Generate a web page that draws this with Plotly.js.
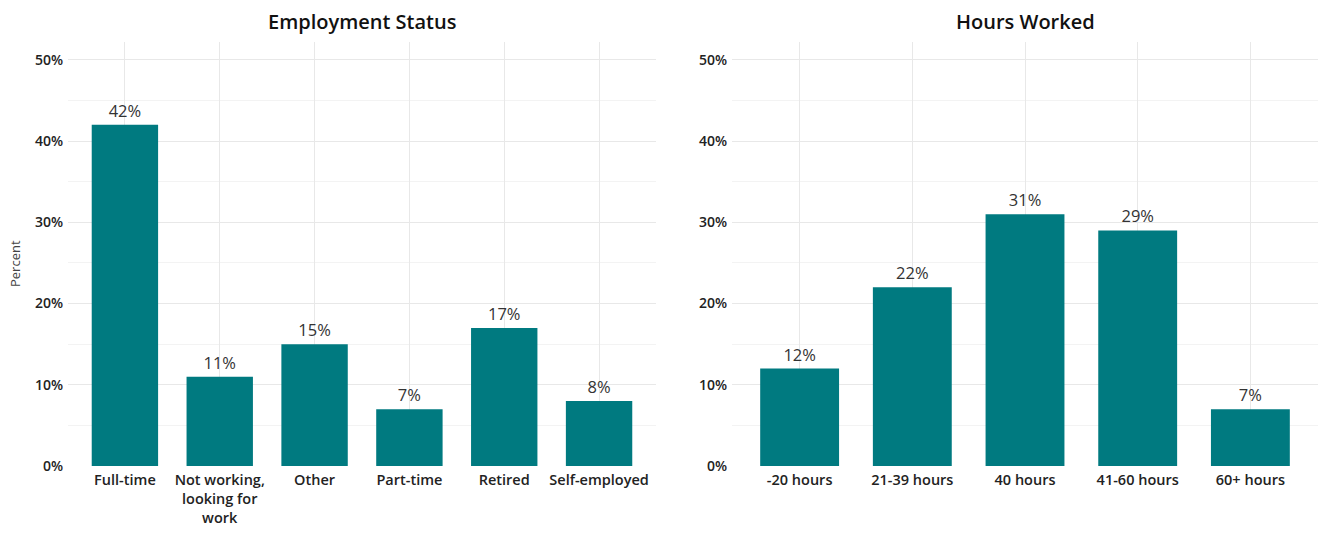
<!DOCTYPE html>
<html>
<head>
<meta charset="utf-8">
<script src="https://cdn.plot.ly/plotly-3.0.1.min.js"></script>
<style>html,body{margin:0;padding:0;background:#fff;}#chart{width:1318px;height:535px;}</style>
</head>
<body>
<div id="chart"></div>
<script>
var empCategories = ["Full-time", "Not working,<br>looking for<br>work", "Other", "Part-time", "Retired", "Self-employed"];
var empValues = [42, 11, 15, 7, 17, 8];
var hoursCategories = ["-20 hours", "21-39 hours", "40 hours", "41-60 hours", "60+ hours"];
var hoursValues = [12, 22, 31, 29, 7];
var yTicks = [0, 10, 20, 30, 40, 50];

var barColor = "#007a80";
var fontFam = "'Open Sans', sans-serif";

function labels(v){ return v.map(function(x){ return x + "%"; }); }

var traces = [
  {type:"bar", x: empCategories, y: empValues, text: labels(empValues), textposition:"outside",
   textfont:{size:16.5, color:"#333", family:fontFam}, cliponaxis:false,
   marker:{color: barColor, line:{width:0}}, width:0.7, xaxis:"x", yaxis:"y", hoverinfo:"none"},
  {type:"bar", x: hoursCategories, y: hoursValues, text: labels(hoursValues), textposition:"outside",
   textfont:{size:16.5, color:"#333", family:fontFam}, cliponaxis:false,
   marker:{color: barColor, line:{width:0}}, width:0.7, xaxis:"x2", yaxis:"y2", hoverinfo:"none"}
];

function yax(anchor){
  return {anchor: anchor, domain:[0.129, 0.9215], range:[0, 52.2], tickvals: yTicks,
    ticktext: yTicks.map(function(t){return t+"%";}), showgrid:true, gridcolor:"#e8e8e8", gridwidth:1,
    minor:{dtick:5, tick0:0, showgrid:true, gridcolor:"#f3f3f3", gridwidth:1},
    zeroline:false, showline:false, ticks:"", ticklen:0, ticklabelstandoff:4,
    tickfont:{size:14, color:"#222", family:fontFam, weight:600}, automargin:false, fixedrange:true};
}
function xax(anchor, dom, n){
  return {anchor: anchor, domain: dom, range:[-0.6, n-1+0.6], showgrid:true, gridcolor:"#e8e8e8",
    zeroline:false, showline:false, ticks:"", type:"category", ticklabelstandoff:4,
    tickfont:{size:14.5, color:"#222", family:fontFam, weight:600}, automargin:false, fixedrange:true};
}

var layout = {
  width:1318, height:535,
  margin:{l:0, r:0, t:0, b:0},
  paper_bgcolor:"#fff", plot_bgcolor:"#fff",
  showlegend:false, bargap:0.3,
  font:{family: fontFam, color:"#222"},
  xaxis: xax("y", [0.0516, 0.4977], empCategories.length),
  yaxis: yax("x"),
  xaxis2: xax("y2", [0.5554, 1.0], hoursCategories.length),
  yaxis2: yax("x2"),
  annotations:[
    {text:"Employment Status", xref:"paper", yref:"paper", x:0.2747, y:1-21/535, xanchor:"center", yanchor:"middle",
     showarrow:false, font:{size:20, color:"#111", family:fontFam, weight:600}},
    {text:"Hours Worked", xref:"paper", yref:"paper", x:0.7777, y:1-21/535, xanchor:"center", yanchor:"middle",
     showarrow:false, font:{size:20, color:"#111", family:fontFam, weight:600}},
    {text:"Percent", xref:"paper", yref:"paper", x:15/1318, y:1-264/535, xanchor:"center", yanchor:"middle",
     textangle:-90, showarrow:false, font:{size:13, color:"#444", family:fontFam}}
  ]
};

Plotly.newPlot("chart", traces, layout, {staticPlot:true, displayModeBar:false});
</script>
</body>
</html>
